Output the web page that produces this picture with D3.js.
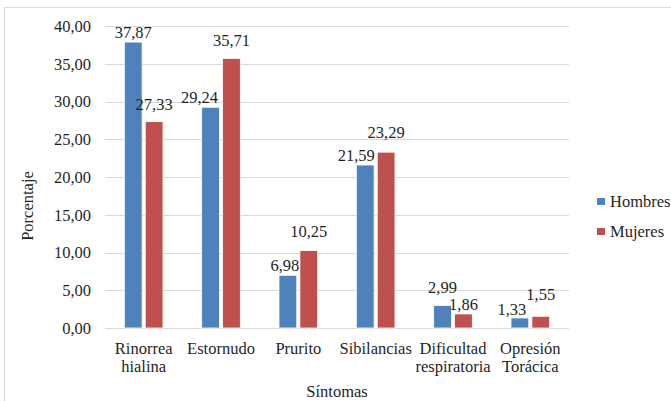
<!DOCTYPE html>
<html>
<head>
<meta charset="utf-8">
<script src="https://cdn.jsdelivr.net/npm/d3@7"></script>
<style>
  body { margin: 0; background: #fff; }
</style>
</head>
<body>
<div id="chart"></div>
<script>
// chart data
const categories = [["Rinorrea", "hialina"], ["Estornudo"], ["Prurito"], ["Sibilancias"], ["Dificultad", "respiratoria"], ["Opresión", "Torácica"]];
const seriesNames = ["Hombres", "Mujeres"];
const hombres = [37.87, 29.24, 6.98, 21.59, 2.99, 1.33];
const mujeres = [27.33, 35.71, 10.25, 23.29, 1.86, 1.55];
const yTicks = [0, 5, 10, 15, 20, 25, 30, 35, 40];

((() => {
  const W = 671, H = 401;
  const margin = { top: 26, left: 105, right: 102, bottom: 73 };
  const width = W - margin.left - margin.right,
        height = H - margin.top - margin.bottom;
  const colors = ["#4F81BD", "#C0504D"];
  const font = "Liberation Serif";
  const fs = "16.5px";
  const ink = "#1f1f1f";
  const fmt = v => v.toFixed(2).replace(".", ",");

  // label nudges (dx, extra lift) per series, like the hand placed labels
  const nudgeH = [[0, 0], [-11, 0], [-3, 0], [-9, 0], [0, 8], [-8, -1]];
  const nudgeM = [[0, 8], [0, 8], [0, 10], [0, 10], [0, 0], [0, 12]];

  const svg = d3.select("#chart").append("svg")
    .attr("width", W).attr("height", H);

  // outer chart border
  svg.append("rect")
    .attr("x", 4.5).attr("y", 7.5)
    .attr("width", W + 10).attr("height", H + 10)
    .attr("fill", "none").attr("stroke", "#d9d9d9");

  const g = svg.append("g")
    .attr("transform", "translate(" + margin.left + "," + margin.top + ")");

  const x = d3.scaleBand()
    .domain(d3.range(categories.length))
    .range([0, width])
    .paddingInner(0.5).paddingOuter(0.25);

  const x1 = d3.scaleBand()
    .domain(d3.range(seriesNames.length))
    .range([0, x.bandwidth()])
    .paddingInner(0.15);

  const y = d3.scaleLinear().domain([0, 40]).range([height, 0]);

  // gridlines
  g.selectAll(".grid").data(yTicks).enter().append("line")
    .attr("x1", 0).attr("x2", width)
    .attr("y1", d => Math.round(y(d)) + 0.5).attr("y2", d => Math.round(y(d)) + 0.5)
    .attr("stroke", "#d9d9d9").attr("stroke-width", 1);

  // y axis labels
  const yAxis = d3.axisLeft(y).tickValues(yTicks).tickSize(0).tickPadding(14).tickFormat(fmt);
  const ya = g.append("g").call(yAxis);
  ya.select(".domain").remove();
  ya.selectAll("text").style("font-family", font).style("font-size", fs).attr("fill", ink);

  const values = [hombres, mujeres];
  const rows = categories.map((c, i) => values.map((v, s) => ({ i, s, v: v[i] })));

  const grp = g.selectAll(".cat").data(rows).enter().append("g")
    .attr("transform", (d, i) => "translate(" + x(i) + ",0)");

  grp.selectAll("rect").data(d => d).enter().append("rect")
    .attr("x", d => x1(d.s))
    .attr("y", d => y(d.v))
    .attr("width", x1.bandwidth())
    .attr("height", d => height - y(d.v))
    .attr("fill", d => colors[d.s])
    .attr("stroke", "#fff").attr("stroke-width", 0.8);

  grp.selectAll(".lbl").data(d => d).enter().append("text")
    .attr("x", d => x1(d.s) + x1.bandwidth() / 2 + (d.s === 0 ? nudgeH : nudgeM)[d.i][0])
    .attr("y", d => y(d.v) - 4 - (d.s === 0 ? nudgeH : nudgeM)[d.i][1])
    .attr("text-anchor", "middle")
    .attr("fill", ink)
    .style("font-family", font).style("font-size", fs)
    .text(d => fmt(d.v));

  // category labels
  const cl = g.selectAll(".cl").data(categories).enter().append("text")
    .attr("x", (d, i) => x(i) + x.bandwidth() / 2)
    .attr("y", height + 26)
    .attr("text-anchor", "middle")
    .attr("fill", ink)
    .style("font-family", font).style("font-size", fs);
  cl.selectAll("tspan").data(d => d).enter().append("tspan")
    .attr("x", function() { return this.parentNode.getAttribute("x"); })
    .attr("dy", (d, i) => i === 0 ? 0 : 18)
    .text(d => d);

  // axis titles
  svg.append("text")
    .attr("x", margin.left + width / 2).attr("y", 397)
    .attr("text-anchor", "middle").attr("fill", ink)
    .style("font-family", font).style("font-size", fs)
    .text("Síntomas");
  svg.append("text")
    .attr("transform", "translate(33,206) rotate(-90)")
    .attr("text-anchor", "middle").attr("fill", ink)
    .style("font-family", font).style("font-size", fs)
    .text("Porcentaje");

  // legend
  const legend = svg.selectAll(".legend").data(seriesNames).enter().append("g")
    .attr("transform", (d, i) => "translate(597," + (198 + i * 30) + ")");
  legend.append("rect").attr("width", 8).attr("height", 7).attr("fill", (d, i) => colors[i]);
  legend.append("text").attr("x", 13).attr("y", 9).attr("fill", ink)
    .style("font-family", font).style("font-size", fs).text(d => d);
})());
</script>
</body>
</html>
